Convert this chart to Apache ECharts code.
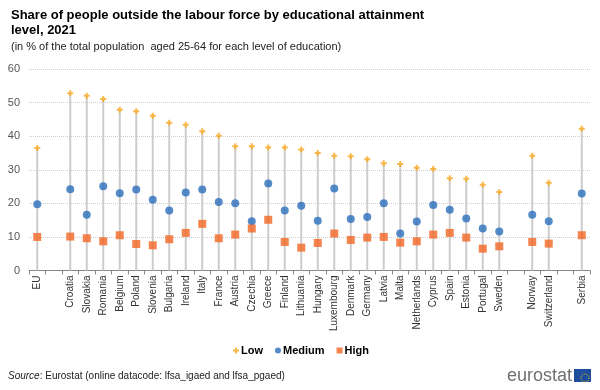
<!DOCTYPE html>
<html><head><meta charset="utf-8">
<script src="https://cdn.jsdelivr.net/npm/echarts@6/dist/echarts.min.js"></script>
<style>html,body{margin:0;padding:0;background:#fff}#c{width:600px;height:390px}</style>
</head><body><div id="c"></div>
<script>
var categories = ['EU','','Croatia','Slovakia','Romania','Belgium','Poland','Slovenia','Bulgaria','Ireland','Italy','France','Austria','Czechia','Greece','Finland','Lithuania','Hungary','Luxembourg','Denmark','Germany','Latvia','Malta','Netherlands','Cyprus','Spain','Estonia','Portugal','Sweden','','Norway','Switzerland','','Serbia'];
var low    = [36.5,null,52.8,52.0,51.1,47.9,47.4,46.1,44.0,43.4,41.5,40.1,37.0,37.0,36.6,36.6,36.0,35.0,34.2,34.0,33.1,31.9,31.7,30.6,30.2,27.5,27.3,25.5,23.4,null,34.2,26.1,null,42.2];
var medium = [19.7,null,24.2,16.6,25.1,23.0,24.1,21.1,17.9,23.2,24.1,20.4,20.0,14.7,25.9,17.9,19.3,14.8,24.4,15.3,15.9,20.0,11.0,14.6,19.5,18.1,15.5,12.5,11.6,null,16.6,14.7,null,22.9];
var high   = [10.0,null,10.1,9.6,8.7,10.5,7.9,7.5,9.3,11.2,13.9,9.6,10.7,12.5,15.1,8.5,6.8,8.2,11.0,9.1,9.8,10.0,8.3,8.7,10.7,11.2,9.8,6.5,7.2,null,8.5,8.0,null,10.5];
var yTicks = [0,10,20,30,40,50,60];

var FONT = 'Liberation Sans, Arial, sans-serif';
var cLow = '#f9a61a', cMed = '#2a6ebb', cHigh = '#f26522';
var plusPath = 'path://M2,0H4V2H6V4H4V6H2V4H0V2H2Z';
var stem = low.map(function(v,i){ if(v==null) return null; return Math.max(v, medium[i]||0, high[i]||0); });

var chart = echarts.init(document.getElementById('c'), null, {renderer:'canvas'});
chart.setOption({
  animation:false,
  textStyle:{fontFamily:FONT},
  title:{
    left:6, top:3,
    text:'Share of people outside the labour force by educational attainment\nlevel, 2021',
    textStyle:{fontFamily:FONT,fontSize:13,fontWeight:'bold',color:'#000',lineHeight:15},
    subtext:'(in % of the total population  aged 25-64 for each level of education)',
    subtextStyle:{fontFamily:FONT,fontSize:11,color:'#222'},
    itemGap:3
  },
  legend:{
    left:228, top:340, itemWidth:6, itemHeight:6, itemGap:12,
    textStyle:{fontFamily:FONT,fontSize:11,fontWeight:'bold',color:'#000',padding:[0,0,0,-3]},
    data:[{name:'Low',icon:plusPath},{name:'Medium',icon:'circle'},{name:'High',icon:'rect'}]
  },
  grid:{left:29,right:10,top:69,bottom:119.5},
  xAxis:{
    type:'category', data:categories, boundaryGap:true,
    axisLine:{lineStyle:{color:'#888'}},
    axisTick:{show:true,interval:0,length:4,lineStyle:{color:'#888'}},
    axisLabel:{interval:0,rotate:90,fontSize:10,color:'#333',margin:5,fontFamily:FONT}
  },
  yAxis:{
    type:'value', min:0, max:60, interval:10,
    axisLine:{show:false}, axisTick:{show:false},
    axisLabel:{fontSize:11,color:'#555',margin:9,fontFamily:FONT,
      formatter:function(v){return yTicks.indexOf(v)>=0?String(v):'';}},
    splitLine:{lineStyle:{color:'#cfcfcf',type:'dotted',width:1}}
  },
  series:[
    {name:'stem',type:'bar',data:stem,barWidth:2,itemStyle:{color:'#cccccc'},silent:true,z:1,legendHoverLink:false},
    {name:'Low',type:'scatter',data:low,symbol:plusPath,symbolSize:6,itemStyle:{color:cLow},z:3},
    {name:'Medium',type:'scatter',data:medium,symbol:'circle',symbolSize:8,itemStyle:{color:cMed},z:3},
    {name:'High',type:'scatter',data:high,symbol:'rect',symbolSize:8,itemStyle:{color:cHigh},z:3}
  ],
  graphic:[
    {type:'text',left:8,top:371,style:{rich:{i:{fontStyle:'italic',fontSize:10,fontFamily:FONT,fill:'#222'},n:{fontSize:10,fontFamily:FONT,fill:'#222'}},text:'{i|Source}{n|: Eurostat (online datacode: lfsa_igaed and lfsa_pgaed)}'}},
    {type:'text',right:28,top:367,style:{text:'eurostat',fontSize:18,fontFamily:FONT,fill:'#707070'}},
    {type:'rect',left:574,top:369,shape:{width:17,height:13},style:{fill:'#1f4e9e'}},
    {type:'circle',left:578.5,top:371.5,shape:{r:4},style:{fill:'none',stroke:'#ffd400',lineWidth:1,lineDash:[1,1.2]}}
  ]
});
</script></body></html>
